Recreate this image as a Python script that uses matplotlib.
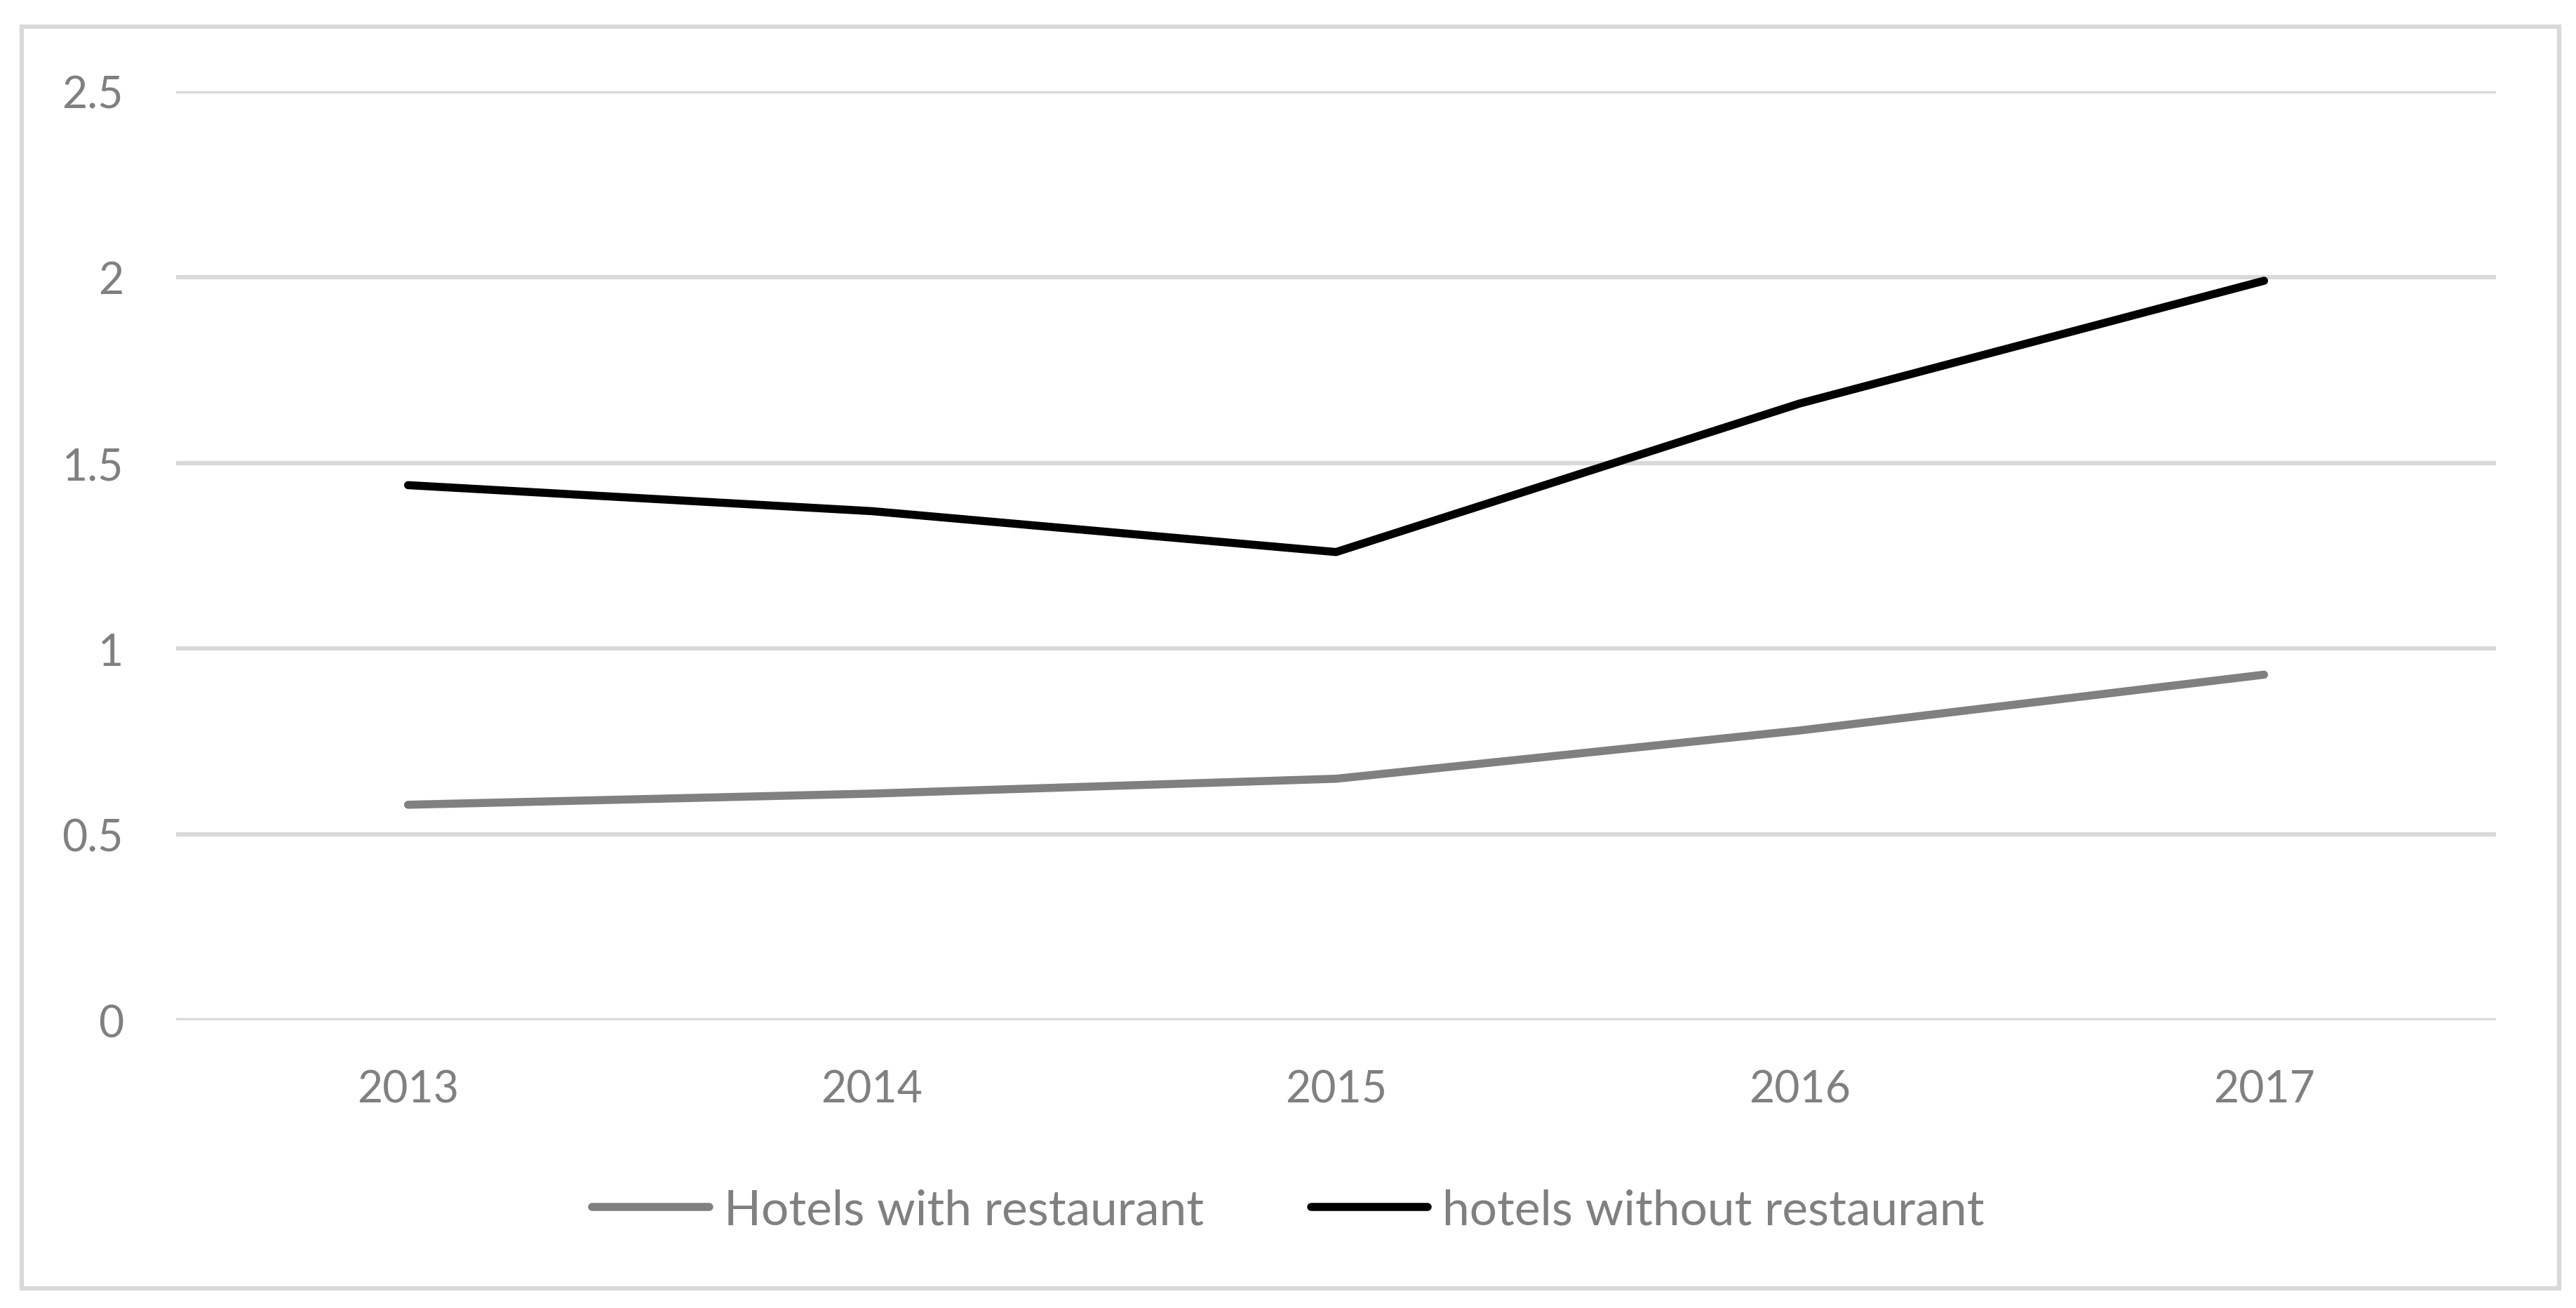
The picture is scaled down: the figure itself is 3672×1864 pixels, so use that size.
import matplotlib
matplotlib.use("Agg")
import matplotlib.pyplot as plt
from matplotlib.patches import Rectangle

years = ["2013", "2014", "2015", "2016", "2017"]
with_restaurant = [0.58, 0.61, 0.65, 0.78, 0.93]
without_restaurant = [1.44, 1.37, 1.26, 1.66, 1.99]
y_ticks = [0, 0.5, 1, 1.5, 2, 2.5]
y_tick_labels = ["0", "0.5", "1", "1.5", "2", "2.5"]
series_names = ["Hotels with restaurant", "hotels without restaurant"]

W, H, DPI = 3673, 1865, 100
plt.rcParams['font.family'] = ['Lato', 'DejaVu Sans']
fig = plt.figure(figsize=(W / DPI, H / DPI), dpi=DPI)
ax = fig.add_axes([251 / W, 1 - 1455 / H, (3558 - 251) / W, (1455 - 131) / H])

x = list(range(len(years)))
ax.plot(x, with_restaurant, color="#808080", lw=8.3, solid_capstyle="round",
        solid_joinstyle="round", label=series_names[0])
ax.plot(x, without_restaurant, color="#000000", lw=8.3, solid_capstyle="round",
        solid_joinstyle="round", label=series_names[1])

ax.set_xlim(-0.5, len(years) - 0.5)
ax.set_ylim(0, 2.5)
ax.set_yticks(y_ticks)
ax.set_yticklabels(y_tick_labels)
ax.set_xticks(x)
ax.set_xticklabels(years)
ax.grid(axis="y", color="#D9D9D9", lw=4.5)
ax.set_axisbelow(True)
for s in ax.spines.values():
    s.set_visible(False)
ax.tick_params(axis="both", length=0, labelsize=45, labelcolor="#808080")
ax.tick_params(axis="y", pad=54)
ax.tick_params(axis="x", pad=50)

fig.legend(loc="center", bbox_to_anchor=(0.5, 1 - 1726 / H), ncol=2, frameon=False,
           fontsize=50, labelcolor="#808080", handlelength=2.4, handletextpad=0.3,
           columnspacing=2.2)

fig.patches.append(Rectangle((31 / W, 1 - 1837 / H), (3648 - 31) / W, (1837 - 39) / H,
                             transform=fig.transFigure, fill=False,
                             edgecolor="#D9D9D9", lw=4.5))

fig.savefig("out.png", dpi=DPI, facecolor="white")
